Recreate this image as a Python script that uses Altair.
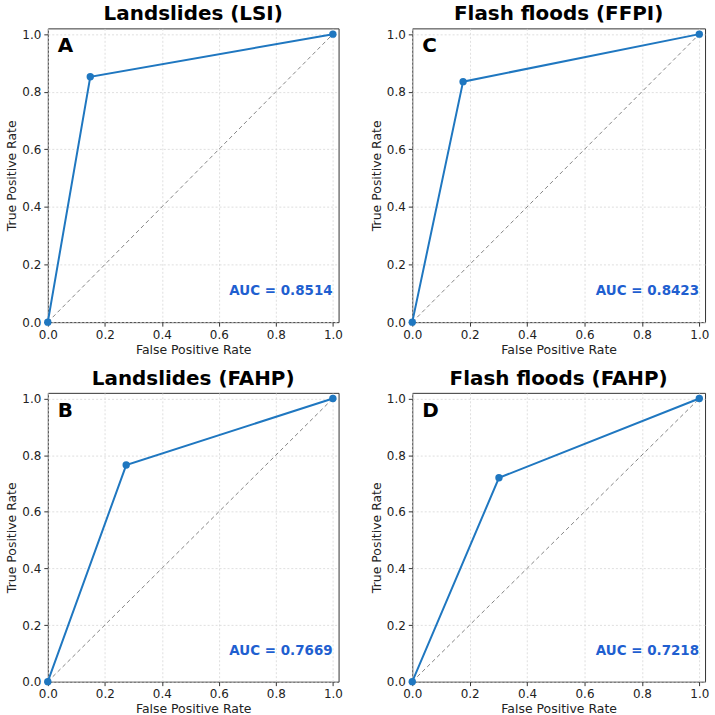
import altair as alt
import pandas as pd

# ROC operating points (FPR, TPR) for each susceptibility model
panel_titles = ["Landslides (LSI)", "Flash floods (FFPI)", "Landslides (FAHP)", "Flash floods (FAHP)"]
panel_letters = ["A", "C", "B", "D"]
fpr_lsi = [0.0, 0.149, 1.0]
tpr_lsi = [0.0, 0.852, 1.0]
fpr_ffpi = [0.0, 0.177, 1.0]
tpr_ffpi = [0.0, 0.835, 1.0]
fpr_ls_fahp = [0.0, 0.275, 1.0]
tpr_ls_fahp = [0.0, 0.765, 1.0]
fpr_ff_fahp = [0.0, 0.302, 1.0]
tpr_ff_fahp = [0.0, 0.720, 1.0]
auc_values = [0.8514, 0.8423, 0.7669, 0.7218]
chance_line = [0.0, 1.0]
tick_values = [0.0, 0.2, 0.4, 0.6, 0.8, 1.0]

curves = [
    (fpr_lsi, tpr_lsi),
    (fpr_ffpi, tpr_ffpi),
    (fpr_ls_fahp, tpr_ls_fahp),
    (fpr_ff_fahp, tpr_ff_fahp),
]

FONT = "DejaVu Sans"
ROC_BLUE = "#1f77c0"
AUC_BLUE = "#1f5fd0"


def roc_panel(title, letter, fpr, tpr, auc, w, h):
    xs = alt.Scale(domain=[0, 1.02], nice=False, zero=False)
    ys = alt.Scale(domain=[0, 1.02], nice=False, zero=False)
    x_axis = alt.Axis(values=tick_values, format=".1f", title="False Positive Rate",
                      labelFlush=False, grid=True)
    y_axis = alt.Axis(values=tick_values, format=".1f", title="True Positive Rate", grid=True)

    diag = alt.Chart(pd.DataFrame({"x": chance_line, "y": chance_line})).mark_line(
        color="#777777", strokeWidth=0.9, strokeDash=[4, 3]
    ).encode(x=alt.X("x:Q", scale=xs, axis=x_axis), y=alt.Y("y:Q", scale=ys, axis=y_axis))

    roc_df = pd.DataFrame({"fpr": fpr, "tpr": tpr})
    roc = alt.Chart(roc_df).mark_line(color=ROC_BLUE, strokeWidth=2).encode(
        x=alt.X("fpr:Q", scale=xs), y=alt.Y("tpr:Q", scale=ys)
    )
    pts = alt.Chart(roc_df).mark_circle(color=ROC_BLUE, size=55, opacity=1).encode(
        x=alt.X("fpr:Q", scale=xs), y=alt.Y("tpr:Q", scale=ys)
    )

    tag = alt.Chart(pd.DataFrame({"t": [letter]})).mark_text(
        font=FONT, fontSize=20, fontWeight="bold", color="black", align="left", baseline="alphabetic"
    ).encode(text="t:N", x=alt.value(10), y=alt.value(24))

    auc_txt = alt.Chart(pd.DataFrame({"t": [f"AUC = {auc:.4f}"]})).mark_text(
        font=FONT, fontSize=13.5, fontWeight="bold", color=AUC_BLUE, align="right", baseline="alphabetic"
    ).encode(text="t:N", x=alt.value(w - 6), y=alt.value(h - 27))

    return alt.layer(diag, roc, pts, tag, auc_txt).properties(
        width=w, height=h,
        title=alt.TitleParams(title, fontSize=20, fontWeight="bold", font=FONT,
                              color="black", offset=4, anchor="middle"),
    )


panels = []
for i in range(4):
    h = 295 if i < 2 else 290
    w = 292 if i % 2 == 0 else 294
    panels.append(roc_panel(panel_titles[i], panel_letters[i], curves[i][0], curves[i][1],
                            auc_values[i], w, h))

chart = alt.concat(*panels, columns=2, spacing={"row": 12, "column": 26}).configure(
    padding={"left": 5, "top": 2, "right": 5, "bottom": 0}
).configure_view(
    stroke="#333333", strokeWidth=1
).configure_axis(
    domain=False,
    labelFont=FONT, titleFont=FONT,
    labelFontSize=12, titleFontSize=12.5, titleFontWeight="normal",
    labelColor="#222222", titleColor="#222222",
    tickColor="#333333", tickSize=4, labelPadding=3, titlePadding=3,
    gridColor="#d6d6d6", gridDash=[2, 2], gridWidth=0.8,
)

chart.save("out.html", embed_options={"renderer": "svg", "actions": False})
